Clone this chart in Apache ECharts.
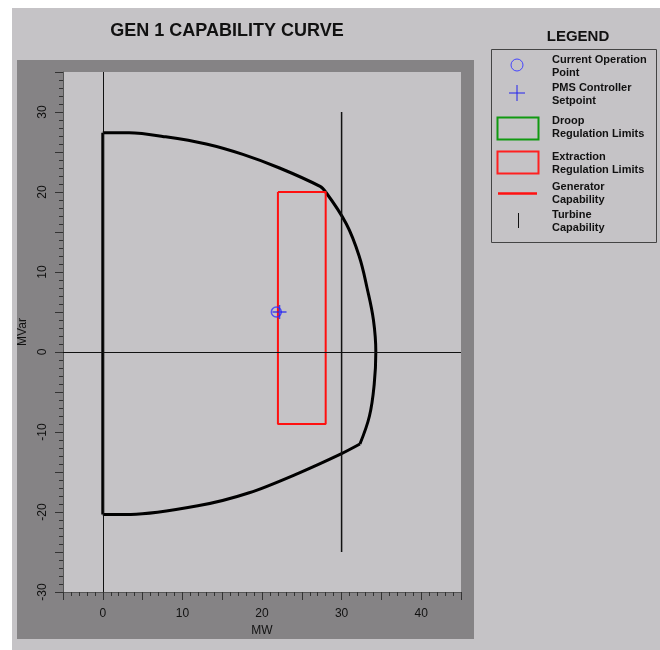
<!DOCTYPE html>
<html>
<head>
<meta charset="utf-8">
<script src="https://cdn.jsdelivr.net/npm/echarts@6/dist/echarts.min.js"></script>
<style>
html,body{margin:0;padding:0;background:#fff;}
#chart{width:660px;height:650px;}
</style>
</head>
<body>
<div id="chart"></div>
<script>
// ---- data ----
const genLeftMW    = [0, 0];
const genLeftMVar  = [-20.3, 27.4];
const genTopMW     = [0, 3.3, 7.9, 13, 17.6, 22.2, 27.3, 28];
const genTopMVar   = [27.4, 27.4, 26.9, 26.0, 24.7, 23.0, 20.7, 20];
const genArcMW     = [28, 30.6, 32.2, 33.2, 34.0, 34.3, 34.1, 33.5, 32.3];
const genArcMVar   = [20, 16, 12, 8, 4, 0, -4, -8, -11.5];
const genBotMW     = [32.3, 29.8, 24.7, 18.4, 12.1, 3.5, 0];
const genBotMVar   = [-11.5, -12.8, -15.1, -17.6, -19.2, -20.3, -20.3];
const extMW   = [22, 28, 28, 22, 22];
const extMVar = [20, 20, -9, -9, 20];
const turbMW   = [30, 30];
const turbMVar = [30, -25];
const opPoint  = [21.8, 5];
const setPoint = [22.2, 5];
const xTickLabels = [0, 10, 20, 30, 40];
const yTickLabels = [-30, -20, -10, 0, 10, 20, 30];
const legendItems = [
  ['Current Operation', 'Point'],
  ['PMS Controller', 'Setpoint'],
  ['Droop', 'Regulation Limits'],
  ['Extraction', 'Regulation Limits'],
  ['Generator', 'Capability'],
  ['Turbine', 'Capability']
];

const zip = (a, b) => a.map((v, i) => [v, b[i]]);
const chart = echarts.init(document.getElementById('chart'));
const FONT = '"Liberation Sans", Arial, sans-serif';
const legendTextY = [60, 88, 121, 157, 187, 215];

const legendGraphics = [];
legendItems.forEach((lines, i) => {
  legendGraphics.push({
    type: 'text', left: 552, top: legendTextY[i] - 7, z: 5,
    style: { text: lines.join('\n'), font: 'bold 11px ' + FONT, fill: '#111', lineHeight: 13 }
  });
});

const genStyle = (name, mw, mvar, smooth) => ({
  type: 'line', name: name, data: zip(mw, mvar), smooth: smooth,
  showSymbol: false, lineStyle: { color: '#000', width: 3 }, z: 3
});

const option = {
  backgroundColor: '#ffffff',
  animation: false,
  graphic: [
    { type: 'rect', z: -20, shape: { x: 12, y: 8, width: 648, height: 642 }, style: { fill: '#c5c3c6' } },
    { type: 'rect', z: -19, shape: { x: 17, y: 60, width: 457, height: 579 }, style: { fill: '#858385' } },
    { type: 'text', x: 227, y: 31, z: 5, style: { text: 'GEN 1 CAPABILITY CURVE', font: 'bold 18px ' + FONT, fill: '#111', textAlign: 'center', textVerticalAlign: 'middle' } },
    { type: 'text', x: 578, y: 37, z: 5, style: { text: 'LEGEND', font: 'bold 15px ' + FONT, fill: '#111', textAlign: 'center', textVerticalAlign: 'middle' } },
    { type: 'rect', z: 5, shape: { x: 491.5, y: 49.5, width: 165, height: 193 }, style: { fill: 'none', stroke: '#444', lineWidth: 1 } },
    { type: 'circle', z: 5, shape: { cx: 517, cy: 65, r: 6 }, style: { fill: 'none', stroke: '#4444ff', lineWidth: 1 } },
    { type: 'line', z: 5, shape: { x1: 509, y1: 93, x2: 525, y2: 93 }, style: { stroke: '#2222ee', lineWidth: 1 } },
    { type: 'line', z: 5, shape: { x1: 517, y1: 85, x2: 517, y2: 101 }, style: { stroke: '#2222ee', lineWidth: 1 } },
    { type: 'rect', z: 5, shape: { x: 497.5, y: 117.5, width: 41, height: 22 }, style: { fill: 'none', stroke: '#119911', lineWidth: 2 } },
    { type: 'rect', z: 5, shape: { x: 497.5, y: 151.5, width: 41, height: 22 }, style: { fill: 'none', stroke: '#ff2020', lineWidth: 2 } },
    { type: 'line', z: 5, shape: { x1: 498, y1: 193.5, x2: 537, y2: 193.5 }, style: { stroke: '#ff1010', lineWidth: 2.5 } },
    { type: 'line', z: 5, shape: { x1: 518.5, y1: 213, x2: 518.5, y2: 228 }, style: { stroke: '#111', lineWidth: 1 } }
  ].concat(legendGraphics),
  grid: {
    left: 63, top: 72, right: 199, bottom: 58,
    show: true, backgroundColor: '#c5c3c6', borderWidth: 0
  },
  xAxis: {
    type: 'value', min: -5, max: 45, interval: 5,
    name: 'MW', nameLocation: 'middle', nameGap: 32,
    nameTextStyle: { fontFamily: FONT, fontSize: 12, color: '#111' },
    axisLine: { show: true, onZero: false, lineStyle: { color: '#555', width: 1 } },
    axisTick: { show: true, length: 8, lineStyle: { color: '#333' } },
    minorTick: { show: true, splitNumber: 5, length: 4, lineStyle: { color: '#333' } },
    splitLine: { show: false },
    axisLabel: {
      margin: 16, fontFamily: FONT, fontSize: 12, color: '#111',
      formatter: v => xTickLabels.indexOf(v) >= 0 ? String(v) : ''
    }
  },
  yAxis: {
    type: 'value', min: -30, max: 35, interval: 5,
    name: 'MVar', nameLocation: 'middle', nameGap: 29, nameRotate: 90,
    nameTextStyle: { fontFamily: FONT, fontSize: 12, color: '#111' },
    axisLine: { show: true, onZero: false, lineStyle: { color: '#555', width: 1 } },
    axisTick: { show: true, length: 8, lineStyle: { color: '#333' } },
    minorTick: { show: true, splitNumber: 5, length: 4, lineStyle: { color: '#333' } },
    splitLine: { show: false },
    axisLabel: {
      margin: 14, rotate: 90, fontFamily: FONT, fontSize: 12, color: '#111',
      formatter: v => yTickLabels.indexOf(v) >= 0 ? String(v) : ''
    }
  },
  series: [
    {
      type: 'line', name: 'axes', data: [], silent: true,
      markLine: {
        silent: true, symbol: 'none', label: { show: false },
        lineStyle: { color: '#111', width: 1, type: 'solid' },
        data: [{ xAxis: 0 }, { yAxis: 0 }]
      }
    },
    genStyle('Generator Capability', genLeftMW, genLeftMVar, false),
    genStyle('Generator Capability', genTopMW, genTopMVar, 0.3),
    genStyle('Generator Capability', genArcMW, genArcMVar, 0.4),
    genStyle('Generator Capability', genBotMW, genBotMVar, 0.3),
    {
      type: 'line', name: 'Extraction Regulation Limits', data: zip(extMW, extMVar),
      showSymbol: false, lineStyle: { color: '#ff1010', width: 2 }, z: 4
    },
    {
      type: 'line', name: 'Turbine Capability', data: zip(turbMW, turbMVar),
      showSymbol: false, lineStyle: { color: '#111', width: 1.5 }, z: 4
    },
    {
      type: 'scatter', name: 'Current Operation Point', data: [opPoint],
      symbol: 'circle', symbolSize: 10, z: 6,
      itemStyle: { color: 'rgba(0,0,0,0)', borderColor: '#3333ff', borderWidth: 1.5 }
    },
    {
      type: 'scatter', name: 'PMS Controller Setpoint', data: [setPoint],
      symbol: 'path://M0,7 L14,7 M7,0 L7,14', symbolSize: 14, z: 6,
      itemStyle: { color: 'rgba(0,0,0,0)', borderColor: '#2222ee', borderWidth: 1.5 }
    }
  ]
};
chart.setOption(option);
</script>
</body>
</html>
